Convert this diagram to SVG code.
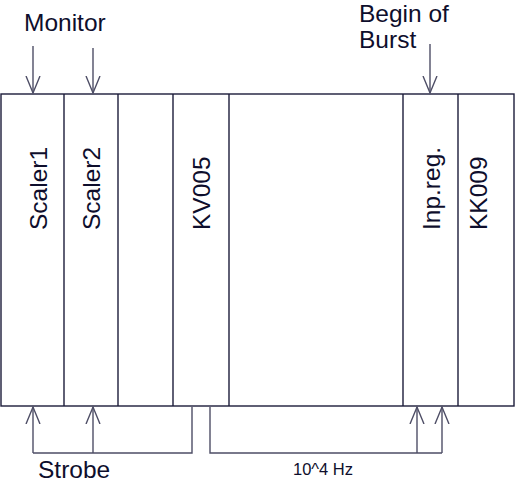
<svg xmlns="http://www.w3.org/2000/svg" width="515" height="484" viewBox="0 0 515 484">
<style>
.frame{fill:#ffffff;stroke:#1c1c3a;stroke-width:1.4}
.div{stroke:#1c1c3a;stroke-width:1.4}
.conn{fill:none;stroke:#4e4e66;stroke-width:1.4}
text{font-family:"Liberation Sans",Arial,sans-serif;fill:#0e0e2c}
.big{font-size:24.5px}
.small{font-size:16.5px}
</style>
<defs>
<marker id="ah" viewBox="0 0 20 20" refX="17" refY="10" markerWidth="20" markerHeight="20" markerUnits="userSpaceOnUse" orient="auto">
<path d="M0,3 L17,10 L0,17" fill="none" stroke="#4e4e66" stroke-width="1.4"/>
</marker>
</defs>
<rect width="515" height="484" fill="#ffffff"/>
<g id="crate">
<rect class="frame" x="1" y="94" width="513" height="312"/>
</g>
<g id="scaler1"><text class="big" transform="translate(47,230) rotate(-90)">Scaler1</text></g>
<g id="scaler2"><line class="div" x1="64" y1="94" x2="64" y2="406"/><text class="big" transform="translate(100,230) rotate(-90)">Scaler2</text></g>
<g id="empty"><line class="div" x1="118" y1="94" x2="118" y2="406"/></g>
<g id="kv005"><line class="div" x1="173" y1="94" x2="173" y2="406"/><text class="big" transform="translate(210,230) rotate(-90)">KV005</text></g>
<g id="space"><line class="div" x1="229" y1="94" x2="229" y2="406"/></g>
<g id="inpreg"><line class="div" x1="403" y1="94" x2="403" y2="406"/><text class="big" transform="translate(440,230) rotate(-90)">Inp.reg.</text></g>
<g id="kk009"><line class="div" x1="458" y1="94" x2="458" y2="406"/><text class="big" transform="translate(487,230) rotate(-90)">KK009</text></g>
<g id="labels">
<text class="big" x="24" y="31">Monitor</text>
<text class="big" x="359" y="22">Begin of</text>
<text class="big" x="359" y="48">Burst</text>
<text class="big" x="38" y="478">Strobe</text>
<text class="small" x="293" y="475">10^4 Hz</text>
</g>
<g id="connectors">
<line class="conn" x1="33" y1="46" x2="33" y2="93" marker-end="url(#ah)"/>
<line class="conn" x1="93" y1="48" x2="93" y2="93" marker-end="url(#ah)"/>
<line class="conn" x1="430" y1="44" x2="430" y2="93" marker-end="url(#ah)"/>
<polyline class="conn" points="192,407 192,453 33,453"/>
<line class="conn" x1="33" y1="453" x2="33" y2="407" marker-end="url(#ah)"/>
<line class="conn" x1="93" y1="453" x2="93" y2="407" marker-end="url(#ah)"/>
<polyline class="conn" points="210,407 210,453 442,453"/>
<line class="conn" x1="417" y1="453" x2="417" y2="407" marker-end="url(#ah)"/>
<line class="conn" x1="442" y1="453" x2="442" y2="407" marker-end="url(#ah)"/>
</g>
</svg>
